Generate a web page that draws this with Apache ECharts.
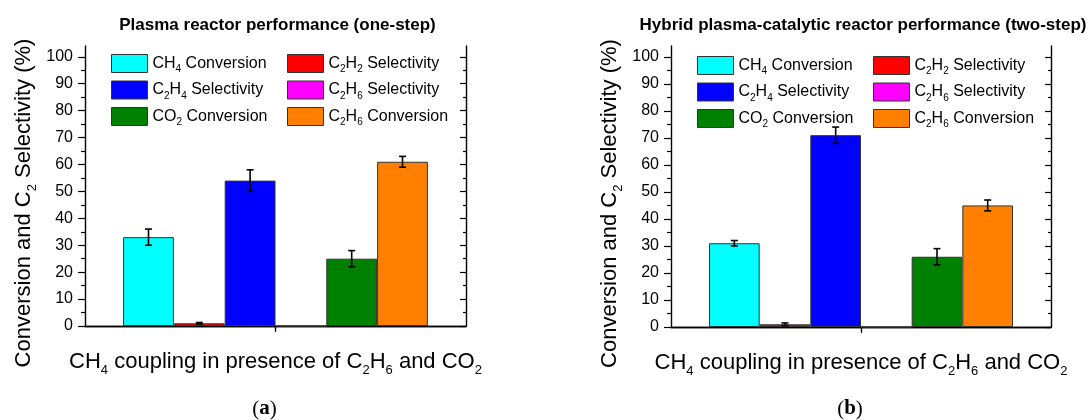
<!DOCTYPE html>
<html>
<head>
<meta charset="utf-8">
<script src="https://cdn.jsdelivr.net/npm/echarts@6/dist/echarts.min.js"></script>
<style>
  html, body { margin: 0; padding: 0; background: #ffffff; }
  #chart { width: 1090px; height: 420px; }
</style>
</head>
<body>
<div id="chart"></div>
<script>
// ---- data ----
const seriesNames = ['CH4 Conversion', 'C2H2 Selectivity', 'C2H4 Selectivity',
                     'C2H6 Selectivity', 'CO2 Conversion', 'C2H6 Conversion'];
const seriesLabels = {
  'CH4 Conversion':    '{n|CH}{s|4}{n| Conversion}',
  'C2H2 Selectivity':  '{n|C}{s|2}{n|H}{s|2}{n| Selectivity}',
  'C2H4 Selectivity':  '{n|C}{s|2}{n|H}{s|4}{n| Selectivity}',
  'C2H6 Selectivity':  '{n|C}{s|2}{n|H}{s|6}{n| Selectivity}',
  'CO2 Conversion':    '{n|CO}{s|2}{n| Conversion}',
  'C2H6 Conversion':   '{n|C}{s|2}{n|H}{s|6}{n| Conversion}'
};
const categories = [''];
const oneStepValues = [33, 1, 54, 0, 25, 61];
const oneStepErrors = [3, 0.3, 4, null, 3, 2];
const twoStepValues = [31, 1, 71, 0, 26, 45];
const twoStepErrors = [1, 0.5, 3, null, 3, 2];
const yTicks = [0, 10, 20, 30, 40, 50, 60, 70, 80, 90, 100];
const yMinorTicks = [5, 15, 25, 35, 45, 55, 65, 75, 85, 95];
const panelTitles = ['Plasma reactor performance (one-step)',
                     'Hybrid plasma-catalytic reactor performance (two-step)'];
const panelTags = ['a', 'b'];
const xAxisTitle = '{n|CH}{s|4}{n| coupling in presence of C}{s|2}{n|H}{s|6}{n| and CO}{s|2}';
const yAxisTitle = '{n|Conversion and C}{s|2}{n| Selectivity (%)}';

// ---- styles ----
const barColors = ['#00ffff', '#ff0000', '#0000ff', '#ff00ff', '#008000', '#ff8000'];
const FONT = 'Liberation Sans, Arial, sans-serif';
const CAT_GAP = 0.2;
const Y_MAX = 104;
const grids = [
  { left: 85, top: 46, width: 381, height: 280 },
  { left: 671, top: 46, width: 380, height: 281 }
];

const chart = echarts.init(document.getElementById('chart'), null, { renderer: 'canvas' });

const subRich = {
  n: { fontSize: 22, lineHeight: 30, fontFamily: FONT, color: '#000' },
  s: { fontSize: 13, fontFamily: FONT, color: '#000', verticalAlign: 'bottom' }
};

function errorBarRender(params, api) {
  const mean = api.value(1);
  const err = api.value(2);
  const slot = api.value(3);
  const n = seriesNames.length;
  const center = api.coord([0, mean]);
  const band = api.size([1, 0])[0];
  const barW = band * (1 - CAT_GAP) / n;
  const x = center[0] + (slot - (n - 1) / 2) * barW;
  const yTop = api.coord([0, mean + err])[1];
  const yBot = api.coord([0, mean - err])[1];
  const cap = 3.5;
  const st = { stroke: '#000', lineWidth: 1.6 };
  return {
    type: 'group',
    children: [
      { type: 'line', shape: { x1: x, y1: yTop, x2: x, y2: yBot }, style: st },
      { type: 'line', shape: { x1: x - cap, y1: yTop, x2: x + cap, y2: yTop }, style: st },
      { type: 'line', shape: { x1: x - cap, y1: yBot, x2: x + cap, y2: yBot }, style: st }
    ]
  };
}

const xAxes = [], yAxes = [], series = [], legends = [], graphics = [];
const panelValues = [oneStepValues, twoStepValues];
const panelErrors = [oneStepErrors, twoStepErrors];

grids.forEach((g, gi) => {
  // bottom + top category axes
  xAxes.push({
    type: 'category', gridIndex: gi, data: categories, position: 'bottom',
    axisLine: { lineStyle: { color: '#000', width: 1.4 } },
    axisTick: { show: true, alignWithLabel: true, inside: false, length: 6,
                lineStyle: { color: '#000', width: 1.2 } },
    axisLabel: { show: false },
    name: xAxisTitle, nameLocation: 'middle', nameGap: 21,
    nameTextStyle: { rich: subRich }
  });
  xAxes.push({
    type: 'category', gridIndex: gi, data: categories, position: 'top',
    axisLine: { lineStyle: { color: '#000', width: 1.4 } },
    axisTick: { show: true, alignWithLabel: true, inside: true, length: 4,
                lineStyle: { color: '#000', width: 1.2 } },
    axisLabel: { show: false }
  });
  // left major / minor, right major / minor value axes
  const yBase = { type: 'value', gridIndex: gi, min: 0, max: Y_MAX, splitLine: { show: false } };
  yAxes.push(Object.assign({}, yBase, {
    position: 'left',
    axisLine: { show: true, lineStyle: { color: '#000', width: 1.4 } },
    axisTick: { show: true, customValues: yTicks, length: 7, lineStyle: { color: '#000', width: 1.2 } },
    axisLabel: { show: true, customValues: yTicks, margin: 12, fontSize: 16,
                 fontFamily: FONT, color: '#000' },
    name: yAxisTitle, nameLocation: 'middle', nameGap: 46, nameRotate: 90,
    nameTextStyle: { rich: subRich, padding: [0, 34, 0, 0] }
  }));
  yAxes.push(Object.assign({}, yBase, {
    position: 'left',
    axisLine: { show: false },
    axisTick: { show: true, customValues: yMinorTicks, length: 4, lineStyle: { color: '#000', width: 1.2 } },
    axisLabel: { show: false }
  }));
  yAxes.push(Object.assign({}, yBase, {
    position: 'right',
    axisLine: { show: true, lineStyle: { color: '#000', width: 1.4 } },
    axisTick: { show: true, inside: true, customValues: yTicks, length: 6, lineStyle: { color: '#000', width: 1.2 } },
    axisLabel: { show: false }
  }));
  yAxes.push(Object.assign({}, yBase, {
    position: 'right',
    axisLine: { show: false },
    axisTick: { show: true, inside: true, customValues: yMinorTicks, length: 3, lineStyle: { color: '#000', width: 1.2 } },
    axisLabel: { show: false }
  }));

  const xi = gi * 2, yi = gi * 4;
  seriesNames.forEach((name, si) => {
    series.push({
      type: 'bar', name: name, xAxisIndex: xi, yAxisIndex: yi,
      data: [panelValues[gi][si]],
      barGap: '0%', barCategoryGap: (CAT_GAP * 100) + '%',
      itemStyle: { color: barColors[si], borderColor: '#333', borderWidth: 1 },
      emphasis: { disabled: true },
      animation: false
    });
  });
  const errData = [];
  panelValues[gi].forEach((v, si) => {
    const e = panelErrors[gi][si];
    if (e != null) errData.push([0, v, e, si]);
  });
  series.push({
    type: 'custom', name: 'error', xAxisIndex: xi, yAxisIndex: yi,
    renderItem: errorBarRender, data: errData, encode: { x: 0, y: 1 },
    z: 10, silent: true, animation: false
  });

  // two-column legend inside the plot
  const legendBase = {
    orient: 'vertical', top: g.top + 3 + gi * 2, itemWidth: 36, itemHeight: 18, itemGap: 6,
    icon: 'rect', selectedMode: false,
    itemStyle: { borderColor: '#333', borderWidth: 1 },
    formatter: (name) => seriesLabels[name],
    textStyle: {
      fontFamily: FONT, color: '#000',
      rich: {
        n: { fontSize: 16, lineHeight: 22, fontFamily: FONT, color: '#000' },
        s: { fontSize: 10, fontFamily: FONT, color: '#000', verticalAlign: 'bottom' }
      }
    }
  };
  legends.push(Object.assign({}, legendBase, {
    left: g.left + 21, data: [seriesNames[0], seriesNames[2], seriesNames[4]]
  }));
  legends.push(Object.assign({}, legendBase, {
    left: g.left + 197, data: [seriesNames[1], seriesNames[3], seriesNames[5]]
  }));

  // panel title and tag
  graphics.push({
    type: 'text', x: g.left + g.width / 2 + 2, y: 25,
    style: { text: panelTitles[gi], font: 'bold 17px ' + FONT, fill: '#000',
             align: 'center', verticalAlign: 'middle' }
  });
  graphics.push({
    type: 'text', x: g.left + g.width / 2 - 11, y: 409,
    style: {
      text: '{p|(}{b|' + panelTags[gi] + '}{p|)}',
      align: 'center', verticalAlign: 'middle',
      rich: {
        p: { fontSize: 21, fontFamily: 'Liberation Serif, serif', fill: '#000' },
        b: { fontSize: 21, fontWeight: 'bold', fontFamily: 'Liberation Serif, serif', fill: '#000' }
      }
    }
  });
});

chart.setOption({
  backgroundColor: '#ffffff',
  animation: false,
  grid: grids,
  xAxis: xAxes,
  yAxis: yAxes,
  legend: legends,
  series: series,
  graphic: graphics
});
</script>
</body>
</html>
